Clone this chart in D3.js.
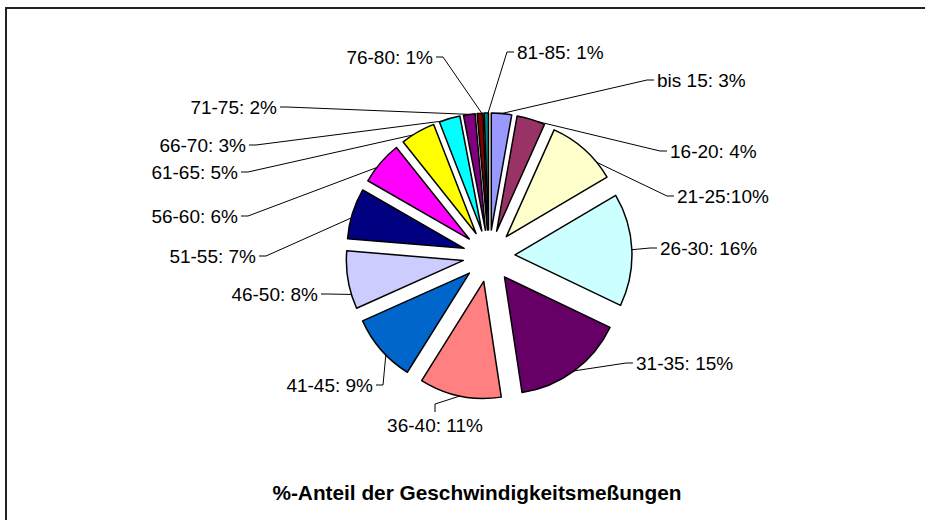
<!DOCTYPE html>
<html>
<head>
<meta charset="utf-8">
<script src="https://cdn.jsdelivr.net/npm/d3@7"></script>
<style>
  body { margin: 0; background: #fff; }
  text { font-family: "Liberation Sans", Arial, sans-serif; fill: #000; }
</style>
</head>
<body>
<div id="chart"></div>
<script>
var categories = ["bis 15", "16-20", "21-25", "26-30", "31-35", "36-40", "41-45",
                  "46-50", "51-55", "56-60", "61-65", "66-70", "71-75", "76-80", "81-85"];
var shares = [2.8, 3.9, 9.8, 15.6, 15.5, 11.3, 9.4, 8.0, 7.0, 6.0, 4.8, 2.9, 1.6, 0.8, 0.6];
var labels = ["bis 15: 3%", "16-20: 4%", "21-25:10%", "26-30: 16%", "31-35: 15%", "36-40: 11%",
              "41-45: 9%", "46-50: 8%", "51-55: 7%", "56-60: 6%", "61-65: 5%", "66-70: 3%",
              "71-75: 2%", "76-80: 1%", "81-85: 1%"];
var colors = ["#9999FF", "#993366", "#FFFFCC", "#CCFFFF", "#660066", "#FF8080", "#0066CC",
              "#CCCCFF", "#000080", "#FF00FF", "#FFFF00", "#00FFFF", "#800080", "#800000", "#008080"];

// label placement (x, y, anchor) and where along the slice arc the leader lands
var labelPos = [[657, 80, "start"], [670, 151, "start"], [677, 196, "start"], [660, 248, "start"],
                [636, 363, "start"], [435, 425, "middle"], [373, 385, "end"], [318, 294, "end"],
                [256, 256, "end"], [238, 216, "end"], [238, 172, "end"], [246, 145, "end"],
                [277, 107, "end"], [433, 57, "end"], [517, 52, "start"]];
var leaderAt = [0.5, 0.75, 0.75, 0.5, 0.5, 0.5, 0.4, 0.25, 0.41, 0.36, 0.34, 0.1, 0.5, 0.8, 0.9];

var W = 925, H = 520,
    cx = 489, cy = 256,
    radius = 117,
    explode = 26;

var svg = d3.select("#chart").append("svg")
  .attr("width", W)
  .attr("height", H);

// chart frame (right and bottom edges run off the picture)
svg.append("rect")
  .attr("x", 6).attr("y", 8)
  .attr("width", W + 20).attr("height", H + 20)
  .attr("fill", "none")
  .attr("stroke", "#222")
  .attr("stroke-width", 2);

var data = categories.map(function(c, i) {
  return { cat: c, value: shares[i], label: labels[i], color: colors[i] };
});

var pie = d3.pie().sort(null).value(function(d) { return d.value; });
var arcs = pie(data);

var arc = d3.arc().innerRadius(0).outerRadius(radius);

function shift(d) {
  var m = (d.startAngle + d.endAngle) / 2;
  return [explode * Math.sin(m), -explode * Math.cos(m)];
}

var g = svg.append("g")
  .attr("transform", "translate(" + cx + "," + cy + ")");

g.selectAll("path.slice")
  .data(arcs)
  .enter().append("path")
  .attr("class", "slice")
  .attr("d", arc)
  .attr("transform", function(d) { var s = shift(d); return "translate(" + s[0] + "," + s[1] + ")"; })
  .attr("fill", function(d) { return d.data.color; })
  .attr("stroke", "#000")
  .attr("stroke-width", 1.5)
  .attr("stroke-linejoin", "round");

// leader lines
var rim = d3.arc().innerRadius(radius).outerRadius(radius);

g.selectAll("path.leader")
  .data(arcs)
  .enter().append("path")
  .attr("class", "leader")
  .attr("fill", "none")
  .attr("stroke", "#000")
  .attr("stroke-width", 1)
  .attr("d", function(d, i) {
    var s = shift(d);
    var a = d.startAngle + leaderAt[i] * (d.endAngle - d.startAngle);
    var p = rim.centroid({ startAngle: a, endAngle: a });
    var ex = p[0] + s[0], ey = p[1] + s[1];
    var lp = labelPos[i], x = lp[0] - cx, y = lp[1] - cy, pts;
    if (lp[2] === "start") pts = [[x - 3, y], [x - 10, y]];
    else if (lp[2] === "end") pts = [[x + 3, y], [x + 10, y]];
    else pts = [[x, y - 13], [x, y - 21]];
    pts.push([ex, ey]);
    return d3.line()(pts);
  });

svg.selectAll("text.lbl")
  .data(arcs)
  .enter().append("text")
  .attr("class", "lbl")
  .attr("x", function(d, i) { return labelPos[i][0]; })
  .attr("y", function(d, i) { return labelPos[i][1]; })
  .attr("dy", "0.35em")
  .attr("text-anchor", function(d, i) { return labelPos[i][2]; })
  .style("font-size", "19px")
  .text(function(d) { return d.data.label; });

svg.append("text")
  .attr("x", 477)
  .attr("y", 500)
  .attr("text-anchor", "middle")
  .style("font-size", "20.8px")
  .style("font-weight", "bold")
  .text("%-Anteil der Geschwindigkeitsmeßungen");
</script>
</body>
</html>
